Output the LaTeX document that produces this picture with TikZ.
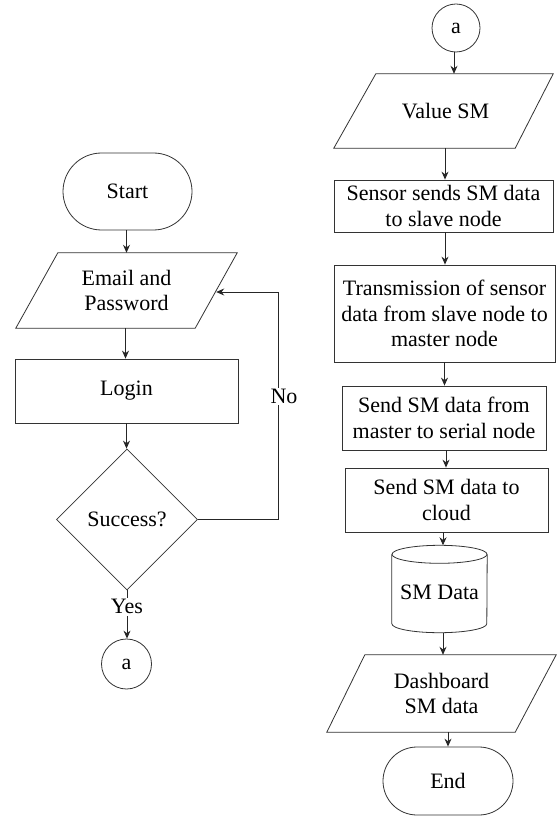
\documentclass[tikz,border=0pt]{standalone}
\usepackage{fontspec}
\setmainfont{Liberation Serif}
\usetikzlibrary{shapes.geometric,shapes.misc,arrows.meta,calc}
\begin{document}
\begin{tikzpicture}[x=1pt,y=-1pt,
  txt/.style={font=\fontsize{22}{25.5}\selectfont, text=black, align=center},
  outl/.style={draw=black!80, line width=0.8pt, fill=white},
  box/.style={txt, outl, rectangle, inner sep=0pt},
  term/.style={txt, outl, rounded rectangle, inner sep=0pt},
  parabox/.style={txt, rectangle, inner sep=0pt},
  dec/.style={txt, outl, diamond, inner sep=0pt, minimum size=141pt},
  conn/.style={txt, outl, circle, inner sep=0pt},
  arr/.style={draw=black!85, line width=0.9pt, -{Stealth[length=8pt,width=7pt]}},
  lbl/.style={txt, fill=white, inner sep=1.5pt}
]
\useasboundingbox (0,0) rectangle (557,818);

% left column
\node[term, minimum width=129pt, minimum height=77pt] (start) at (127.5,191.5) {Start};
\node[parabox, minimum width=221pt, minimum height=75pt] (email) at (126.5,290.5) {};
\draw[outl] (email.south west) -- ($(email.north west)+(42,0)$) -- (email.north east)
  -- ($(email.south east)+(-42,0)$) -- cycle;
\node[txt] at (email.center) {Email and\\Password};
\coordinate (emailright) at ($(email.east)+(-21,1.5)$);
\node[box, minimum width=223pt, minimum height=64pt] (login) at (126.5,391) {Login};
\node[dec] (succ) at (127,519.5) {Success?};
\node[conn, minimum size=50pt] (a1) at (126.5,664) {a};

\draw[arr] ([xshift=-1pt]start.south) -- ([xshift=-1pt]start.south |- email.north);
\draw[arr] ([xshift=-1pt]email.south) -- ([xshift=-1pt]email.south |- login.north);
\draw[arr] (login.south) -- (login.south |- succ.north);
\draw[arr] (succ.south) -- node[lbl, pos=0.34]{Yes} (succ.south |- a1.north);
\coordinate (nocorner) at (278,519.5);
\draw[arr] (succ.east) -- (nocorner) |- node[lbl, pos=0.27, xshift=6pt]{No} (emailright);

% right column
\node[conn, minimum size=48pt] (a2) at (456,28) {a};
\node[parabox, minimum width=219pt, minimum height=74pt] (value) at (443.5,111) {};
\draw[outl] (value.south west) -- ($(value.north west)+(42,0)$) -- (value.north east)
  -- ($(value.south east)+(-38,0)$) -- cycle;
\node[txt] at ($(value.center)+(2,0)$) {Value SM};
\node[box, minimum width=219pt, minimum height=52pt] (sensor) at (443.5,206) {Sensor sends SM data\\to slave node};
\node[box, minimum width=221pt, minimum height=97pt] (trans) at (444.5,313.5) {Transmission of sensor\\data from slave node to\\master node};
\node[box, minimum width=204pt, minimum height=64pt] (master) at (444,418) {Send SM data from\\master to serial node};
\node[box, minimum width=203pt, minimum height=64pt] (cloud) at (446.5,500) {Send SM data to\\cloud};
\node[txt, rectangle, inner sep=0pt, minimum width=95pt, minimum height=87pt] (db) at (439.5,589) {};
\draw[outl]
  ($(db.north west)+(0,9)$) -- ($(db.south west)+(0,-9)$)
  arc[start angle=180, end angle=360, x radius=47.5pt, y radius=9pt]
  -- ($(db.north east)+(0,9)$);
\draw[outl] ($(db.north)+(0,9)$) ellipse[x radius=47.5pt, y radius=9pt];
\node[txt] at ($(db.center)+(0,3)$) {SM Data};
\node[parabox, minimum width=229pt, minimum height=77pt] (dash) at (441.5,693.5) {};
\draw[outl] (dash.south west) -- ($(dash.north west)+(38,0)$) -- (dash.north east)
  -- ($(dash.south east)+(-41,0)$) -- cycle;
\node[txt] at (dash.center) {Dashboard\\SM data};
\node[term, minimum width=130pt, minimum height=68pt] (end) at (448,781) {End};

\draw[arr] ([xshift=-2pt]a2.south) -- ([xshift=-2pt]a2.south |- value.north);
\draw[arr] ([xshift=1.5pt]value.south) -- ([xshift=1.5pt]value.south |- sensor.north);
\draw[arr] ([xshift=1.5pt]sensor.south) -- ([xshift=1.5pt]sensor.south |- trans.north);
\draw[arr] (trans.south) -- (trans.south |- master.north);
\draw[arr] ([xshift=2pt]master.south) -- ([xshift=2pt]master.south |- cloud.north);
\draw[arr] ([xshift=-3.5pt]cloud.south) -- ([xshift=-3.5pt]cloud.south |- db.north);
\draw[arr] ([xshift=3.5pt]db.south) -- ([xshift=3.5pt]db.south |- dash.north);
\draw[arr] ([xshift=6.5pt]dash.south) -- ([xshift=6.5pt]dash.south |- end.north);
\end{tikzpicture}
\end{document}
